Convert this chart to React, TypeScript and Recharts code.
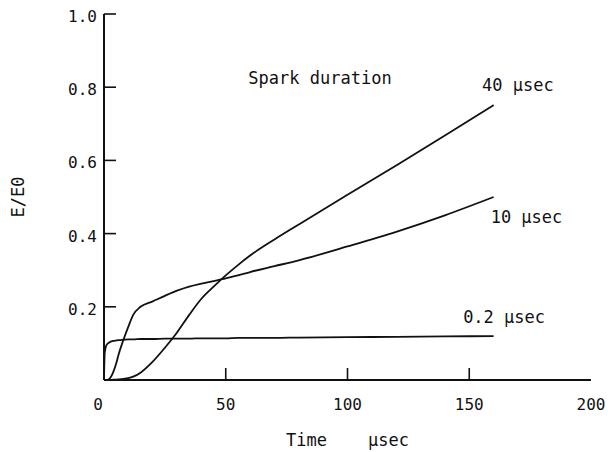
import { LineChart, Line, XAxis, YAxis, ReferenceDot } from "recharts";

// time axis (µsec) shared by the three curves
const times = [0, 0.3, 1, 2, 4, 5, 6, 8, 10, 12, 15, 20, 25, 30, 35, 40, 45, 50, 55, 60, 70, 80, 100, 120, 140, 160];

// E/E0 for each spark duration
const spark02 = [0, 0.075, 0.095, 0.102, 0.107, 0.108, 0.109, 0.11, 0.111, 0.111, 0.112, 0.112, 0.113, 0.113, 0.113, 0.114, 0.114, 0.114, 0.115, 0.115, 0.115, 0.116, 0.117, 0.118, 0.119, 0.12];
const spark10 = [0, 0, 0, 0.002, 0.025, 0.045, 0.07, 0.11, 0.146, 0.178, 0.2, 0.215, 0.23, 0.244, 0.255, 0.263, 0.27, 0.278, 0.286, 0.295, 0.311, 0.327, 0.365, 0.405, 0.45, 0.5];
const spark40 = [0, 0, 0, 0, 0.001, 0.001, 0.002, 0.003, 0.005, 0.009, 0.02, 0.05, 0.088, 0.13, 0.178, 0.222, 0.255, 0.286, 0.314, 0.34, 0.384, 0.425, 0.506, 0.586, 0.668, 0.751];

const xTicks = [0, 50, 100, 150, 200];
const yTicks = [0.2, 0.4, 0.6, 0.8, 1.0];

const notes = [
  { t: 88.7, v: 0.825, text: "Spark duration" },
  { t: 170, v: 0.806, text: "40 µsec" },
  { t: 173.5, v: 0.445, text: "10 µsec" },
  { t: 164.3, v: 0.171, text: "0.2 µsec" },
];

const data = times.map((t, i) => ({ t, s02: spark02[i], s10: spark10[i], s40: spark40[i] }));

const INK = "#111";
const FONT = "DejaVu Sans Mono";
const TICK = 12;

function BottomTick({ x, y, payload }: any) {
  const v = payload.value;
  return (
    <g>
      {v > 0 && v < 200 && <line x1={x} x2={x} y1={y} y2={y - TICK} stroke={INK} strokeWidth={1.6} />}
      <text x={v === 0 ? x - 6 : x} y={y + 30} textAnchor="middle" fill={INK} fontSize={16} fontFamily={FONT}>
        {v}
      </text>
    </g>
  );
}

function LeftTick({ x, y, payload }: any) {
  return (
    <g>
      <line x1={x} x2={x + TICK} y1={y} y2={y} stroke={INK} strokeWidth={1.6} />
      <text x={x - 7} y={y + 8} textAnchor="end" fill={INK} fontSize={16} fontFamily={FONT}>
        {payload.value.toFixed(1)}
      </text>
    </g>
  );
}

function TopTick({ x, y, payload }: any) {
  const v = payload.value;
  if (v <= 0 || v >= 200) return <g />;
  return <line x1={x} x2={x} y1={y} y2={y + TICK} stroke={INK} strokeWidth={1.6} />;
}

function RightTick({ x, y, payload }: any) {
  if (payload.value >= 1) return <g />;
  return <line x1={x} x2={x - TICK} y1={y} y2={y} stroke={INK} strokeWidth={1.6} />;
}

function YLabel({ viewBox }: any) {
  const cy = viewBox.y + viewBox.height / 2;
  return (
    <text transform={`translate(24, ${cy}) rotate(-90)`} textAnchor="middle" fill={INK} fontSize={17} fontFamily={FONT}>
      E/E0
    </text>
  );
}

export default function App() {
  return (
    <div style={{ position: "fixed", left: 0, top: 0, width: 608, height: 452, background: "#fff" }}>
      <LineChart width={608} height={452} data={data} margin={{ top: 14, right: 17, bottom: 42, left: 44 }}>
        <XAxis
          xAxisId="b"
          dataKey="t"
          type="number"
          domain={[0, 200]}
          ticks={xTicks}
          height={30}
          tickSize={0}
          tickMargin={0}
          tickLine={false}
          axisLine={{ stroke: INK, strokeWidth: 2 }}
          tick={<BottomTick />}
          label={{ value: "Time\u00a0\u00a0\u00a0\u00a0µsec", position: "insideBottom", offset: -36, fill: INK, fontSize: 17, fontFamily: FONT }}
        />
        <XAxis
          xAxisId="top"
          orientation="top"
          dataKey="t"
          type="number"
          domain={[0, 200]}
          ticks={xTicks}
          height={0}
          tickSize={0}
          tickMargin={0}
          tickLine={false}
          axisLine={{ stroke: INK, strokeWidth: 2 }}
          tick={<TopTick />}
        />
        <YAxis
          yAxisId="l"
          type="number"
          domain={[0, 1]}
          ticks={yTicks}
          width={60}
          tickSize={0}
          tickMargin={0}
          tickLine={false}
          axisLine={{ stroke: INK, strokeWidth: 2 }}
          tick={<LeftTick />}
          label={<YLabel />}
        />
        <YAxis
          yAxisId="r"
          orientation="right"
          type="number"
          domain={[0, 1]}
          ticks={yTicks}
          width={0}
          tickSize={0}
          tickMargin={0}
          tickLine={false}
          axisLine={{ stroke: INK, strokeWidth: 2 }}
          tick={<RightTick />}
        />
        <Line xAxisId="b" yAxisId="l" dataKey="s02" type="monotone" stroke={INK} strokeWidth={1.8} dot={false} isAnimationActive={false} />
        <Line xAxisId="b" yAxisId="l" dataKey="s10" type="monotone" stroke={INK} strokeWidth={1.8} dot={false} isAnimationActive={false} />
        <Line xAxisId="b" yAxisId="l" dataKey="s40" type="monotone" stroke={INK} strokeWidth={1.8} dot={false} isAnimationActive={false} />
        {notes.map((n) => (
          <ReferenceDot
            key={n.text}
            xAxisId="b"
            yAxisId="l"
            x={n.t}
            y={n.v}
            r={0}
            fill="none"
            stroke="none"
            label={{ value: n.text, position: "center", fill: INK, fontSize: 17, fontFamily: FONT }}
          />
        ))}
      </LineChart>
    </div>
  );
}
